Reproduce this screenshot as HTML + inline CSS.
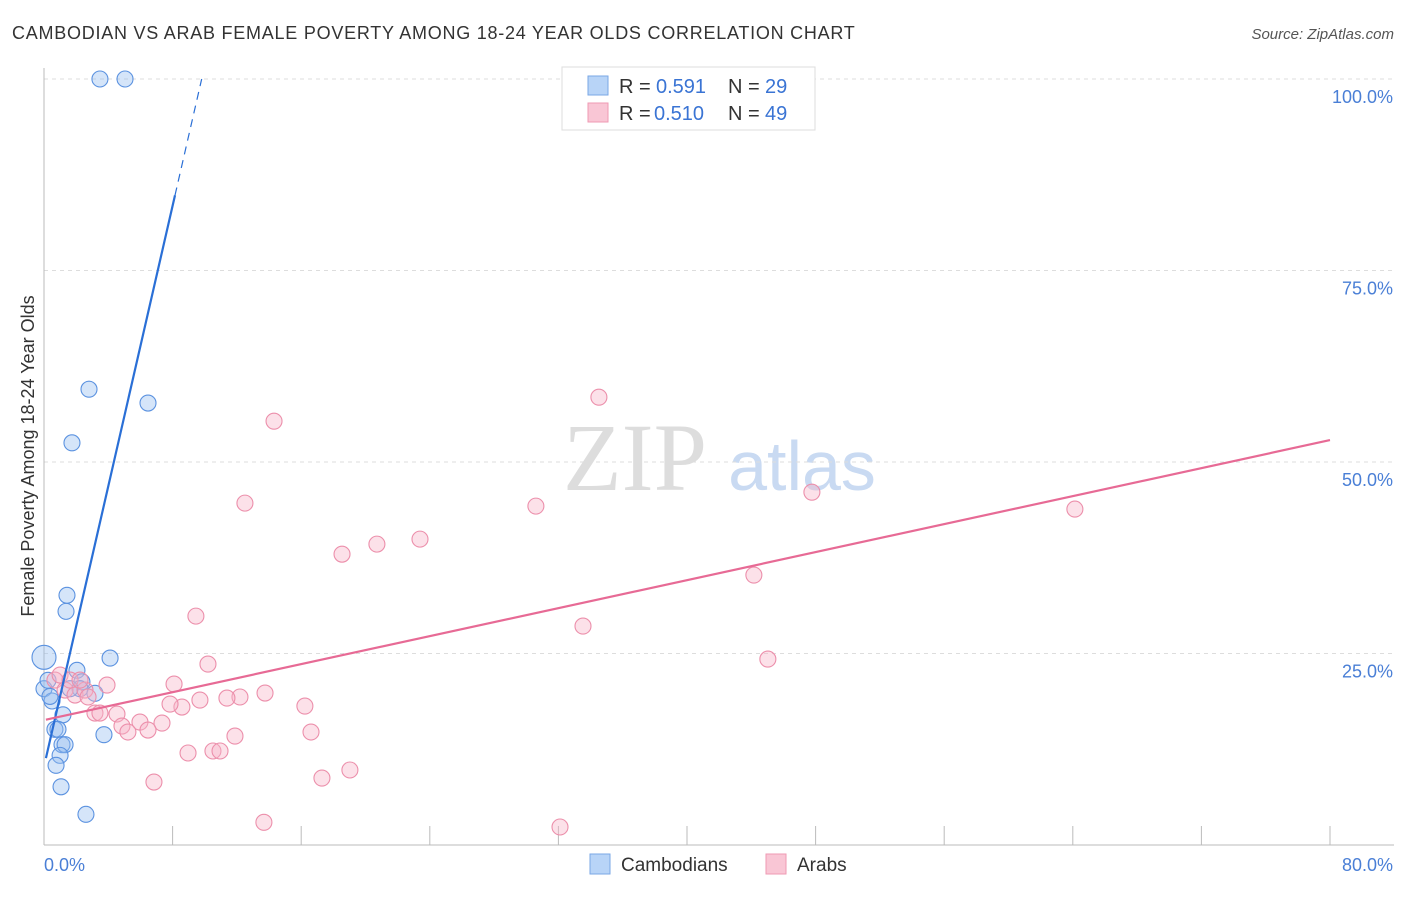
<!DOCTYPE html>
<html><head><meta charset="utf-8"><style>
body{margin:0;background:#fff;font-family:"Liberation Sans",sans-serif}
</style></head><body>
<svg width="1406" height="892" xmlns="http://www.w3.org/2000/svg" id="chart">
<text x="12" y="39" font-size="18" fill="#333" letter-spacing="0.75">CAMBODIAN VS ARAB FEMALE POVERTY AMONG 18-24 YEAR OLDS CORRELATION CHART</text>
<text x="1394" y="39" font-size="15" fill="#555" font-style="italic" text-anchor="end">Source: ZipAtlas.com</text>
<g>
<text x="635" y="490" font-size="96" fill="#ddd" font-family="Liberation Serif,serif" text-anchor="middle">ZIP</text>
<text x="802" y="490" font-size="70" fill="#c9daf2" text-anchor="middle">atlas</text>
</g>
<g id="grid"></g>
<g id="axes"></g>
<g id="marks"></g>
<text transform="translate(34,456) rotate(-90)" font-size="18" fill="#333" text-anchor="middle">Female Poverty Among 18-24 Year Olds</text>
<g>
<rect x="562" y="67" width="253" height="63" fill="#fff" stroke="#ddd"/>
<rect x="588" y="76" width="20" height="19" fill="#b8d4f7" stroke="#7aa7e6"/>
<rect x="588" y="103" width="20" height="19" fill="#f9c6d5" stroke="#ef9ab3"/>
<text x="619" y="93" font-size="20" fill="#333">R =</text>
<text x="656" y="93" font-size="20" fill="#3a74d4">0.591</text>
<text x="728" y="93" font-size="20" fill="#333">N =</text>
<text x="765" y="93" font-size="20" fill="#3a74d4">29</text>
<text x="619" y="120" font-size="20" fill="#333">R =</text>
<text x="654" y="120" font-size="20" fill="#3a74d4">0.510</text>
<text x="728" y="120" font-size="20" fill="#333">N =</text>
<text x="765" y="120" font-size="20" fill="#3a74d4">49</text>
</g>
<g>
<rect x="590" y="854" width="20" height="20" fill="#b8d4f7" stroke="#7aa7e6"/>
<text x="621" y="871" font-size="19" fill="#333">Cambodians</text>
<rect x="766" y="854" width="20" height="20" fill="#f9c6d5" stroke="#ef9ab3"/>
<text x="797" y="871" font-size="19" fill="#333">Arabs</text>
</g>
</svg>
<script>
const yTicks=[25,50,75,100];
const yTickLabels=["25.0%","50.0%","75.0%","100.0%"];
const xTicks=[0,8,16,24,32,40,48,56,64,72,80];
const camX=[3.48,5.04,2.80,6.47,1.74,1.43,1.37,4.11,0,2.05,2.36,2.24,3.17,0,0.5,1.18,0.68,0.87,1.12,1.31,1.0,0.75,3.73,1.06,2.61,0.25,0.37,1.62];
const camY=[100,100,59.5,57.7,52.5,32.6,30.5,24.4,24.5,22.8,21.3,20.4,19.8,20.4,18.8,17.0,15.1,15.1,13.1,13.1,11.7,10.4,14.4,7.6,4.0,21.5,19.4,20.4];
const arbX=[34.52,14.31,30.60,47.77,12.50,64.13,23.39,20.71,18.54,44.16,33.53,9.45,45.03,10.20,3.92,8.09,13.75,9.70,12.19,11.38,16.23,8.58,7.84,3.17,4.54,11.88,16.61,7.34,5.97,4.85,6.47,5.22,8.96,10.51,10.95,19.03,17.29,6.84,13.68,32.10,0.68,1.0,1.31,1.62,1.93,2.55,2.24,2.74,3.48];
const arbY=[58.46,55.33,44.24,46.06,44.63,43.85,39.93,39.28,37.97,35.24,28.58,29.88,24.27,23.62,20.88,21.01,19.84,18.92,19.32,19.18,18.14,18.01,18.40,17.23,17.10,14.22,14.75,15.92,16.05,15.53,15.01,14.75,12.01,12.27,12.27,9.79,8.74,8.22,2.96,2.35,21.53,22.19,20.23,21.53,19.58,20.23,21.53,19.32,17.23];
const camFit=[10.25,9.15];
const arbFit=[16.3,0.457];
const X=v=>44+v/80*1286, Y=v=>845-v/100*766;
const NS="http://www.w3.org/2000/svg";
function mk(t,a,p){const e=document.createElementNS(NS,t);for(const k in a)e.setAttribute(k,a[k]);p.appendChild(e);return e;}
const grid=document.getElementById('grid'),axes=document.getElementById('axes'),marks=document.getElementById('marks');
yTicks.forEach((v,i)=>{
 const l=mk('line',{x1:44,x2:1394,y1:Y(v),y2:Y(v),stroke:'#ddd','stroke-dasharray':'4,4'},grid);
 
 
 const t=mk('text',{x:1393,y:Y(v)+24,'font-size':18,fill:'#4a7fd6','text-anchor':'end'},axes);t.textContent=yTickLabels[i];
 
 
});
const ax=mk('line',{x1:44,x2:44,y1:68,y2:845,stroke:'#bbb'},axes);


const bx=mk('line',{x1:44,x2:1394,y1:845,y2:845,stroke:'#bbb'},axes);


xTicks.forEach(v=>{const t=mk('line',{x1:X(v),x2:X(v),y1:826,y2:845,stroke:'#bbb'},axes);
 
 });
[[0,"0.0%",'start',44],[80,"80.0%",'end',1393]].forEach(([v,s,a,x])=>{const t=mk('text',{x:x,y:871,'font-size':18,fill:'#4a7fd6','text-anchor':a},axes);t.textContent=s;
 
 });
camX.forEach((x,i)=>{const c=mk('circle',{cx:X(x),cy:Y(camY[i]),r:(x===0&&camY[i]>24)?12:8,fill:'rgba(150,190,240,0.4)',stroke:'#5b92e0','stroke-width':1.1},marks);
 
 });
arbX.forEach((x,i)=>{const c=mk('circle',{cx:X(x),cy:Y(arbY[i]),r:8,fill:'rgba(248,180,200,0.4)',stroke:'#ec8fab','stroke-width':1.1},marks);
 
 });
const xe=8.15, xd=(100-camFit[0])/camFit[1];
const b1=mk('line',{x1:X(0.12),y1:Y(camFit[0]+camFit[1]*0.12),x2:X(xe),y2:Y(camFit[0]+camFit[1]*xe),stroke:'#2a6fd6','stroke-width':2.2},marks);


const b2=mk('line',{x1:X(xe),y1:Y(camFit[0]+camFit[1]*xe),x2:X(xd),y2:Y(100),stroke:'#2a6fd6','stroke-width':1.2,'stroke-dasharray':'8,6'},marks);


const p=mk('line',{x1:X(0.12),y1:Y(arbFit[0]+arbFit[1]*0.12),x2:X(80),y2:Y(arbFit[0]+arbFit[1]*80),stroke:'#e76a95','stroke-width':2.2},marks);


</script>
</body></html>
